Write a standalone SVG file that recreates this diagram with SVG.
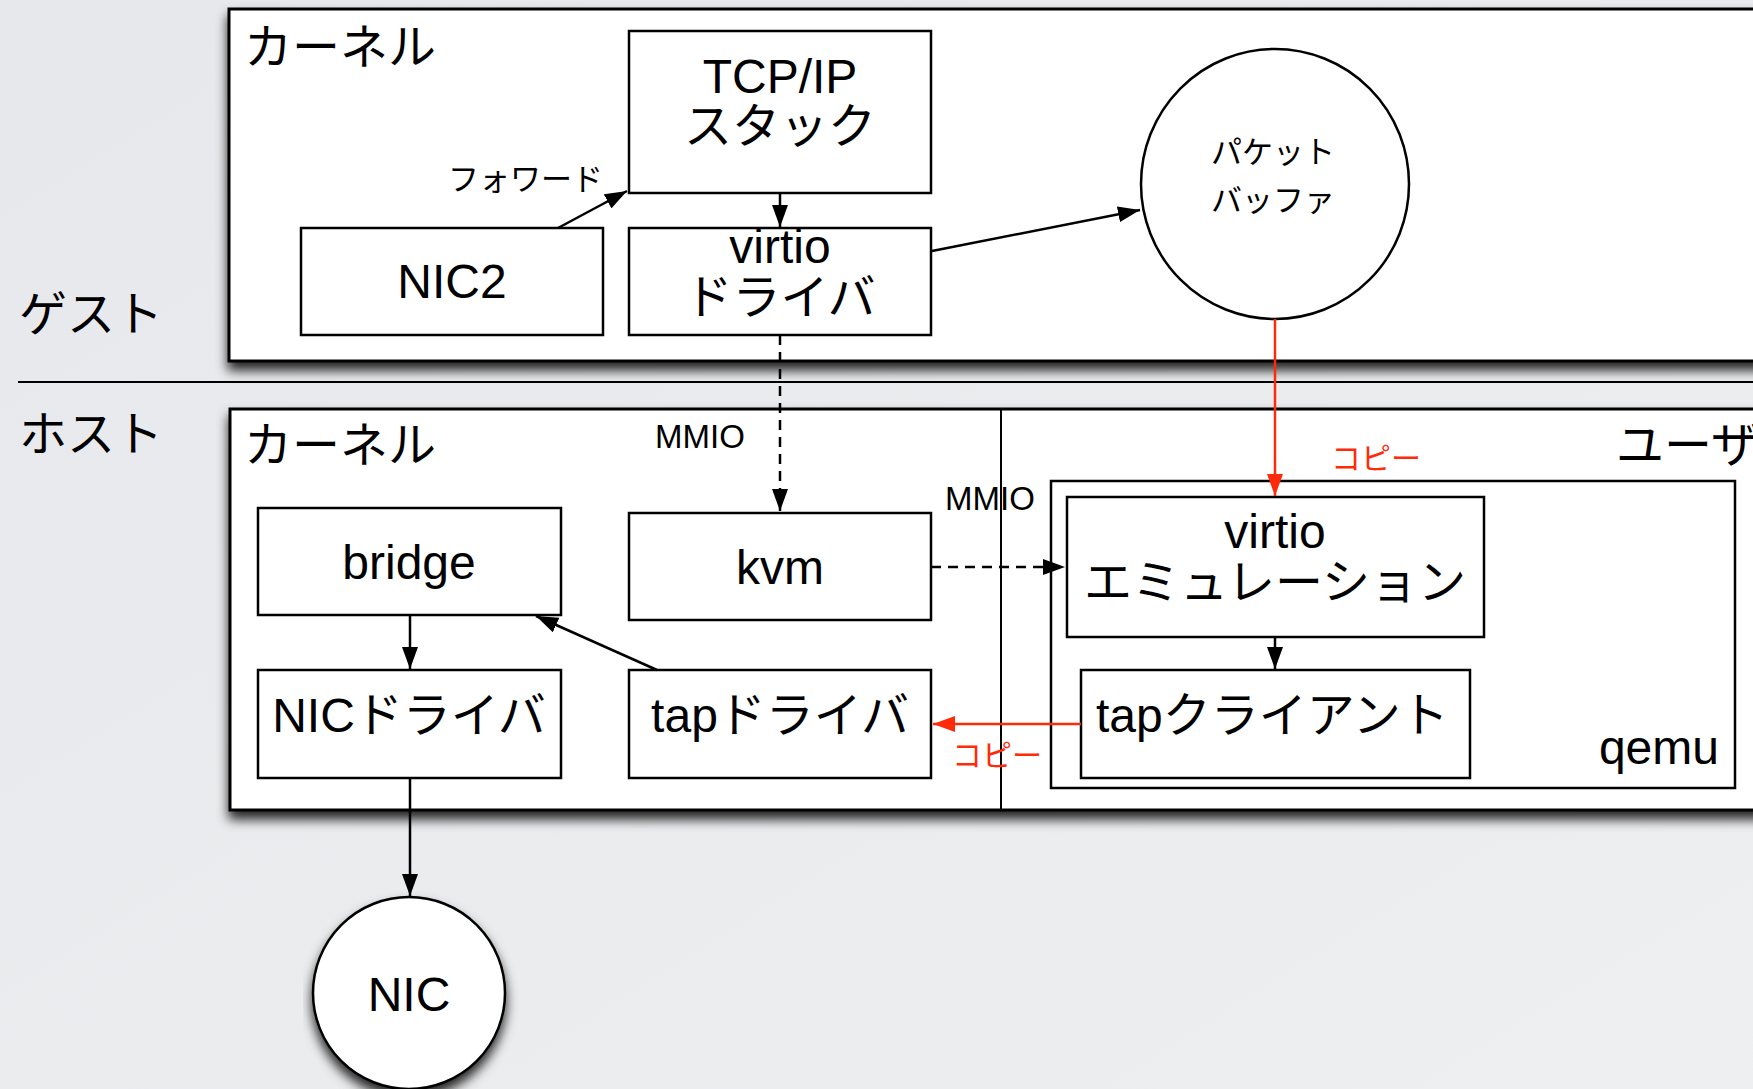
<svg xmlns="http://www.w3.org/2000/svg" width="1753" height="1089" viewBox="0 0 1753 1089">
<style>
.t{font-family:"Liberation Sans","Noto Sans CJK JP",sans-serif;fill:#000}
.big{font-size:48px}
.sm{font-size:31px}
.red{fill:#ff2a0a;font-size:30px}
.box{fill:#fff;stroke:#000;stroke-width:2.5}
.outer{fill:#fff;stroke:#000;stroke-width:3}
.ln{fill:none;stroke:#000;stroke-width:2.5}
.dash{stroke-dasharray:10 7}
.rl{fill:none;stroke:#ff2a0a;stroke-width:2.5}
</style>
<defs>
<linearGradient id="bg" x1="0" y1="0" x2="1" y2="1">
<stop offset="0" stop-color="#e7e8eb"/>
<stop offset="1" stop-color="#eeeff1"/>
</linearGradient>
<filter id="sh" x="-5%" y="-5%" width="115%" height="120%">
<feDropShadow dx="0" dy="8" stdDeviation="6" flood-color="#000" flood-opacity="0.85"/>
</filter>
<marker id="ah" markerWidth="22" markerHeight="16" refX="22" refY="8" orient="auto" markerUnits="userSpaceOnUse">
<path d="M0,0 L22,8 L0,16 Z" fill="#000"/>
</marker>
<marker id="ahr" markerWidth="22" markerHeight="16" refX="22" refY="8" orient="auto" markerUnits="userSpaceOnUse">
<path d="M0,0 L22,8 L0,16 Z" fill="#ff2a0a"/>
</marker>
</defs>
<rect width="1753" height="1089" fill="url(#bg)"/>

<g id="guest-label"><text class="t big" x="19" y="331">ゲスト</text></g>
<g id="host-label"><text class="t big" x="19" y="451">ホスト</text></g>
<line x1="18" y1="382" x2="1753" y2="382" stroke="#000" stroke-width="2"/>

<g id="guest-kernel">
<rect class="outer" x="229" y="9" width="1560" height="352" filter="url(#sh)"/>
<text class="t big" x="244" y="64">カーネル</text>
</g>

<g id="host-area">
<rect class="outer" x="230" y="409" width="1560" height="401" filter="url(#sh)"/>
<line x1="1001" y1="409" x2="1001" y2="810" stroke="#000" stroke-width="2"/>
<text class="t big" x="244" y="462">カーネル</text>
<text class="t big" x="1616" y="462">ユーザ</text>
</g>

<g id="tcpip">
<rect class="box" x="629" y="31" width="302" height="162"/>
<text class="t big" x="780" y="93" text-anchor="middle">TCP/IP</text>
<text class="t big" x="780" y="143" text-anchor="middle">スタック</text>
</g>
<g id="nic2">
<rect class="box" x="301" y="228" width="302" height="107"/>
<text class="t big" x="452" y="298" text-anchor="middle">NIC2</text>
</g>
<g id="virtio-driver">
<rect class="box" x="629" y="228" width="302" height="107"/>
<text class="t big" x="780" y="263" text-anchor="middle">virtio</text>
<text class="t big" x="780" y="314" text-anchor="middle">ドライバ</text>
</g>
<g id="packet-buffer">
<ellipse cx="1275" cy="184" rx="134" ry="135" fill="#fff" stroke="#000" stroke-width="2.5"/>
<text class="t sm" x="1273" y="163" text-anchor="middle">パケット</text>
<text class="t sm" x="1273" y="211" text-anchor="middle">バッファ</text>
</g>

<g id="bridge">
<rect class="box" x="258" y="508" width="303" height="107"/>
<text class="t big" x="409" y="579" text-anchor="middle">bridge</text>
</g>
<g id="kvm">
<rect class="box" x="629" y="513" width="302" height="107"/>
<text class="t big" x="780" y="584" text-anchor="middle">kvm</text>
</g>
<g id="nic-driver">
<rect class="box" x="258" y="670" width="303" height="108"/>
<text class="t big" x="409" y="732" text-anchor="middle">NICドライバ</text>
</g>
<g id="tap-driver">
<rect class="box" x="629" y="670" width="302" height="108"/>
<text class="t big" x="780" y="732" text-anchor="middle">tapドライバ</text>
</g>
<g id="qemu">
<rect class="box" x="1051" y="481" width="684" height="307"/>
<text class="t big" x="1719" y="764" text-anchor="end">qemu</text>
</g>
<g id="virtio-emu">
<rect class="box" x="1067" y="497" width="417" height="140"/>
<text class="t big" x="1275" y="548" text-anchor="middle">virtio</text>
<text class="t big" x="1275" y="599" text-anchor="middle">エミュレーション</text>
</g>
<g id="tap-client">
<rect class="box" x="1081" y="670" width="389" height="108"/>
<text class="t big" x="1096" y="732">tapクライアント</text>
</g>
<g id="nic">
<circle cx="409" cy="993" r="96" fill="#fff" stroke="#000" stroke-width="2.5" filter="url(#sh)"/>
<text class="t big" x="409" y="1011" text-anchor="middle">NIC</text>
</g>

<g id="connectors">
<line class="ln" x1="558" y1="228" x2="627" y2="191" marker-end="url(#ah)"/>
<text class="t sm" x="448" y="190">フォワード</text>
<line class="ln" x1="780" y1="193" x2="780" y2="227" marker-end="url(#ah)"/>
<line class="ln" x1="932" y1="251" x2="1140" y2="210" marker-end="url(#ah)"/>
<line class="ln dash" x1="780" y1="335" x2="780" y2="511" marker-end="url(#ah)"/>
<text class="t" font-size="33" x="655" y="448">MMIO</text>
<line class="ln dash" x1="931" y1="567" x2="1065" y2="567" marker-end="url(#ah)"/>
<text class="t" font-size="33" x="945" y="510">MMIO</text>
<line class="ln" x1="410" y1="615" x2="410" y2="669" marker-end="url(#ah)"/>
<line class="ln" x1="657" y1="670" x2="536" y2="616" marker-end="url(#ah)"/>
<line class="ln" x1="410" y1="778" x2="410" y2="896" marker-end="url(#ah)"/>
<line class="ln" x1="1275" y1="637" x2="1275" y2="669" marker-end="url(#ah)"/>
<line class="rl" x1="1275" y1="319" x2="1275" y2="496" marker-end="url(#ahr)"/>
<text class="t red" x="1331" y="469">コピー</text>
<line class="rl" x1="1081" y1="724" x2="933" y2="724" marker-end="url(#ahr)"/>
<text class="t red" x="952" y="766">コピー</text>
</g>
</svg>
